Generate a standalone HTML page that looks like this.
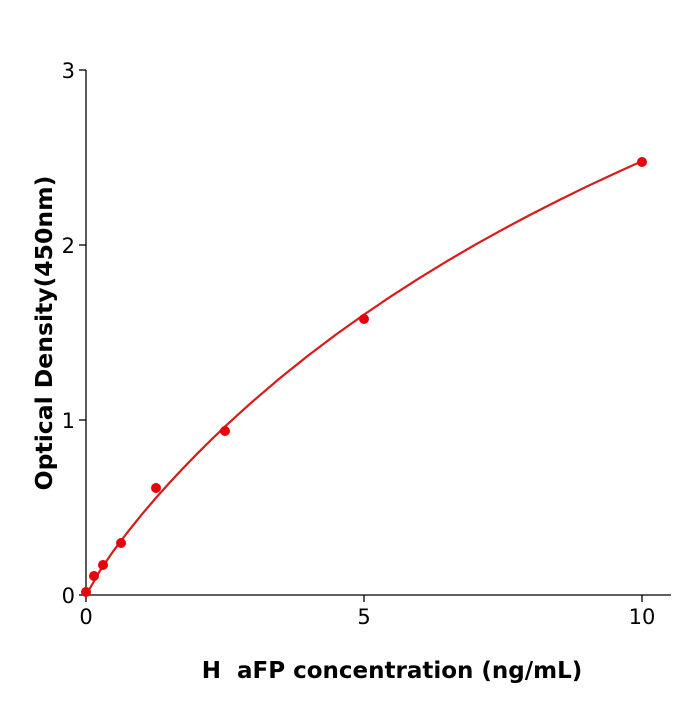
<!DOCTYPE html>
<html><head><style>
html,body{margin:0;padding:0;background:#fff;}
</style></head><body>
<svg width="700" height="700" xmlns="http://www.w3.org/2000/svg" style="font-family:'DejaVu Sans','Liberation Sans',sans-serif">
<rect width="700" height="700" fill="#fff"/>
<g stroke="#000" stroke-width="1.3" fill="none">
<line x1="86" y1="70" x2="86" y2="596"/>
<line x1="85" y1="595" x2="671" y2="595"/>
<line x1="79" y1="70" x2="86" y2="70"/>
<line x1="79" y1="245" x2="86" y2="245"/>
<line x1="79" y1="420" x2="86" y2="420"/>
<line x1="79" y1="595" x2="86" y2="595"/>
<line x1="86" y1="595" x2="86" y2="602"/>
<line x1="364" y1="595" x2="364" y2="602"/>
<line x1="642" y1="595" x2="642" y2="602"/>
</g>
<g font-size="21" fill="#000">
<text x="75" y="78" text-anchor="end">3</text>
<text x="75" y="253" text-anchor="end">2</text>
<text x="75" y="428" text-anchor="end">1</text>
<text x="75" y="603" text-anchor="end">0</text>
<text x="86" y="624" text-anchor="middle">0</text>
<text x="364" y="624" text-anchor="middle">5</text>
<text x="642" y="624" text-anchor="middle">10</text>
</g>
<text x="392" y="678" font-size="23" font-weight="bold" text-anchor="middle" xml:space="preserve">H  aFP concentration (ng/mL)</text>
<text transform="translate(52,333) rotate(-90)" font-size="23.5" font-weight="bold" text-anchor="middle">Optical Density(450nm)</text>
<polyline points="86,595 93,583 99.9,570.8 113.8,550.4 127.7,532 141.6,514.7 155.5,498.4 169.4,482.9 183.3,468 197.2,453.7 211.1,439.9 225,426.6 238.9,413.8 252.8,401.3 280.6,377.6 308.4,355.4 336.2,334.4 364,314.6 391.8,295.8 419.6,277.9 447.4,260.9 475.2,244.7 503,229.3 530.8,214.5 558.6,200.4 586.4,186.7 614.2,173.7 642,161.1" stroke="#d91a1a" stroke-width="2.2" fill="none" stroke-linejoin="round"/>
<g fill="#e8000b">
<circle cx="86" cy="592" r="5"/>
<circle cx="94" cy="576" r="5"/>
<circle cx="103" cy="565" r="5"/>
<circle cx="121" cy="543" r="5"/>
<circle cx="156" cy="488" r="5"/>
<circle cx="225" cy="431" r="5"/>
<circle cx="364" cy="319" r="5"/>
<circle cx="642" cy="162" r="5"/>
</g>
</svg>
</body></html>
